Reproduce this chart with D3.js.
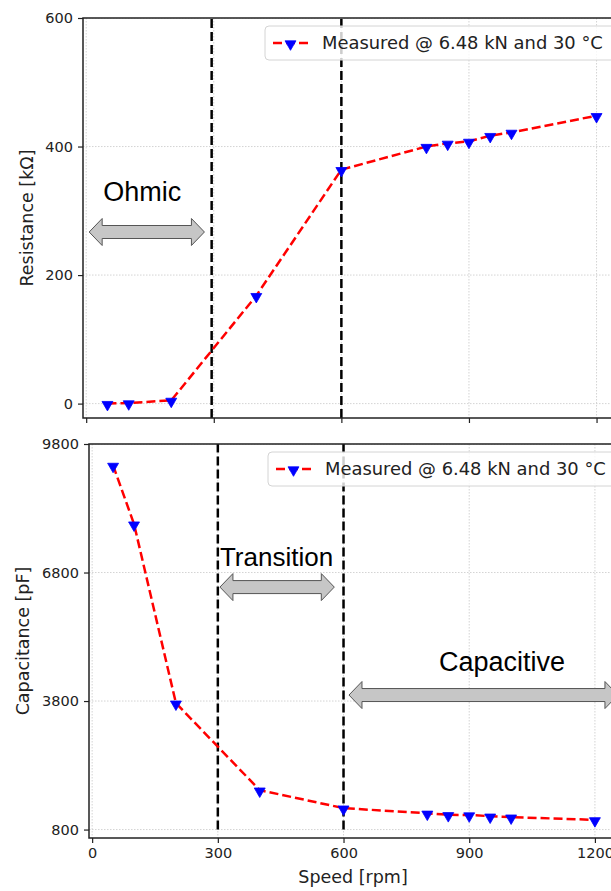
<!DOCTYPE html>
<html>
<head>
<meta charset="utf-8">
<script src="https://cdn.jsdelivr.net/npm/d3@7"></script>
<style>
  body { margin: 0; background: #fff; }
  svg { display: block; }
  .tick text { font-family: "DejaVu Sans", sans-serif; font-size: 14.5px; fill: #222; }
</style>
</head>
<body>
<div id="chart"></div>
<script>
// measured points
var speed = [50, 100, 200, 400, 600, 800, 850, 900, 950, 1000, 1200];
var resistance = [0, 1, 5, 168, 364, 400, 405, 408, 417, 422, 448];
var capacitance = [9300, 7930, 3750, 1720, 1300, 1180, 1145, 1140, 1112, 1090, 1027];

var xTicks = [0, 300, 600, 900, 1200];
var resTicks = [0, 200, 400, 600];
var capTicks = [800, 3800, 6800, 9800];

var legendLabel = "Measured @ 6.48 kN and 30 °C";

// region boundaries (speed) and annotation arrows in data units
var resBounds = [295, 600];
var capBounds = [300, 600];
var ohmic = {x1: 7, x2: 278, y: 267, tx: 40, ty: 315, label: "Ohmic", size: 27};
var transition = {x1: 305, x2: 578, y: 6460, tx: 305, ty: 6945, label: "Transition", size: 26};
var capacitive = {x1: 613, x2: 1255, y: 3940, tx: 828, ty: 4505, label: "Capacitive", size: 27};

var width = 611, height = 891;

var svg = d3.select("#chart").append("svg")
    .attr("width", width)
    .attr("height", height);

var defs = svg.append("defs");

function arrowPath(x1, x2, y) {
  var sh = 6.5, hh = 13.5, hl = 13;
  return "M" + x1 + "," + y +
    "L" + (x1 + hl) + "," + (y - hh) +
    "L" + (x1 + hl) + "," + (y - sh) +
    "L" + (x2 - hl) + "," + (y - sh) +
    "L" + (x2 - hl) + "," + (y - hh) +
    "L" + x2 + "," + y +
    "L" + (x2 - hl) + "," + (y + hh) +
    "L" + (x2 - hl) + "," + (y + sh) +
    "L" + (x1 + hl) + "," + (y + sh) +
    "L" + (x1 + hl) + "," + (y + hh) + "Z";
}

function panel(opt) {
  var x = d3.scaleLinear().domain([-7.5, 1257.5]).range([opt.left, opt.right]);
  var y = d3.scaleLinear().domain(opt.yDomain).range([opt.bottom, opt.top]);

  var clipId = "clip" + opt.id;
  defs.append("clipPath").attr("id", clipId)
    .append("rect")
      .attr("x", opt.left).attr("y", opt.top)
      .attr("width", opt.right - opt.left).attr("height", opt.bottom - opt.top);

  var g = svg.append("g");
  var plot = g.append("g").attr("clip-path", "url(#" + clipId + ")");

  // grid
  plot.selectAll(".vgrid")
    .data(xTicks)
    .enter().append("line")
      .attr("x1", function(d) { return x(d); })
      .attr("x2", function(d) { return x(d); })
      .attr("y1", opt.top).attr("y2", opt.bottom)
      .attr("stroke", "#c8c8c8").attr("stroke-width", 0.8)
      .attr("stroke-dasharray", "1.5,1.5");
  plot.selectAll(".hgrid")
    .data(opt.yTicks)
    .enter().append("line")
      .attr("x1", opt.left).attr("x2", opt.right)
      .attr("y1", function(d) { return y(d); })
      .attr("y2", function(d) { return y(d); })
      .attr("stroke", "#c8c8c8").attr("stroke-width", 0.8)
      .attr("stroke-dasharray", "1.5,1.5");

  // region boundaries
  plot.selectAll(".bound")
    .data(opt.bounds)
    .enter().append("line")
      .attr("x1", function(d) { return x(d); })
      .attr("x2", function(d) { return x(d); })
      .attr("y1", y(opt.vlineSpan[0]))
      .attr("y2", y(opt.vlineSpan[1]))
      .attr("stroke", "#000").attr("stroke-width", 2.5)
      .attr("stroke-dasharray", "9,4");

  // annotations
  opt.notes.forEach(function(n) {
    plot.append("path")
      .attr("d", arrowPath(x(n.x1), x(n.x2), y(n.y)))
      .attr("fill", "#c6c6c6")
      .attr("stroke", "#555")
      .attr("stroke-width", 1);
    plot.append("text")
      .attr("x", x(n.tx)).attr("y", y(n.ty))
      .attr("font-family", "'Liberation Sans', Arial, sans-serif")
      .attr("font-size", n.size)
      .attr("fill", "#000")
      .text(n.label);
  });

  // series
  var line = d3.line()
      .x(function(d) { return x(d[0]); })
      .y(function(d) { return y(d[1]); });
  var pts = d3.zip(speed, opt.values);

  plot.append("path")
    .datum(pts)
    .attr("d", line)
    .attr("fill", "none")
    .attr("stroke", "#ff0000")
    .attr("stroke-width", 2.5)
    .attr("stroke-dasharray", "9,4");

  var tri = d3.symbol().type(d3.symbolTriangle).size(52);
  plot.selectAll(".pt")
    .data(pts)
    .enter().append("path")
      .attr("d", tri)
      .attr("transform", function(d) { return "translate(" + x(d[0]) + "," + (y(d[1]) + 1) + ") rotate(180)"; })
      .attr("fill", "#0000ff")
      .attr("stroke", "#0000ff")
      .attr("stroke-width", 0.8);

  // legend
  var lg = g.append("g").attr("transform", "translate(" + opt.legend[0] + "," + opt.legend[1] + ")");
  lg.append("rect")
    .attr("x", 0).attr("y", 0)
    .attr("width", 380).attr("height", 34)
    .attr("rx", 4)
    .attr("fill", "#fff").attr("fill-opacity", 0.8)
    .attr("stroke", "#d4d4d4").attr("stroke-width", 1);
  lg.append("line")
    .attr("x1", 8).attr("x2", 45).attr("y1", 17).attr("y2", 17)
    .attr("stroke", "#ff0000").attr("stroke-width", 2.5)
    .attr("stroke-dasharray", "9,4");
  lg.append("path")
    .attr("d", tri)
    .attr("transform", "translate(25.5,18) rotate(180)")
    .attr("fill", "#0000ff").attr("stroke", "#0000ff").attr("stroke-width", 0.8);
  lg.append("text")
    .attr("x", 57).attr("y", 17).attr("dy", "0.35em")
    .attr("font-family", "'DejaVu Sans', sans-serif")
    .attr("font-size", 17.9)
    .attr("fill", "#222")
    .text(legendLabel);

  // axes
  g.append("g")
    .attr("transform", "translate(0," + opt.bottom + ")")
    .call(d3.axisBottom(x).tickValues(xTicks).tickSize(5).tickPadding(5)
      .tickFormat(opt.xLabels ? d3.format("d") : ""))
    .call(function(a) { a.select(".domain").remove(); })
    .call(function(a) { a.selectAll(".tick line").attr("stroke", "#222").attr("stroke-width", 1.2); });

  g.append("g")
    .attr("transform", "translate(" + opt.left + ",0)")
    .call(d3.axisLeft(y).tickValues(opt.yTicks).tickSize(5).tickPadding(5).tickFormat(d3.format("d")))
    .call(function(a) { a.select(".domain").remove(); })
    .call(function(a) { a.selectAll(".tick line").attr("stroke", "#222").attr("stroke-width", 1.2); });

  // frame
  g.append("rect")
    .attr("x", opt.left).attr("y", opt.top)
    .attr("width", opt.right - opt.left).attr("height", opt.bottom - opt.top)
    .attr("fill", "none").attr("stroke", "#222").attr("stroke-width", 1.5);

  g.append("text")
    .attr("transform", "translate(" + opt.yLabelX + "," + ((opt.top + opt.bottom) / 2) + ") rotate(-90)")
    .attr("text-anchor", "middle")
    .attr("dy", "0.35em")
    .attr("font-family", "'DejaVu Sans', sans-serif")
    .attr("font-size", 17.5)
    .attr("fill", "#222")
    .text(opt.yLabel);

  return x;
}

panel({
  id: "res", left: 83, right: 621, top: 18, bottom: 418,
  yDomain: [-22.4, 600], yTicks: resTicks, values: resistance,
  bounds: resBounds, vlineSpan: [-22.4, 600], notes: [ohmic],
  legend: [265, 26], xLabels: false,
  yLabel: "Resistance [kΩ]", yLabelX: 27
});

panel({
  id: "cap", left: 89, right: 619, top: 444, bottom: 838,
  yDomain: [603, 9800], yTicks: capTicks, values: capacitance,
  bounds: capBounds, vlineSpan: [800, 9800], notes: [transition, capacitive],
  legend: [268, 452], xLabels: true,
  yLabel: "Capacitance [pF]", yLabelX: 23
});

svg.append("text")
  .attr("x", 353).attr("y", 883)
  .attr("text-anchor", "middle")
  .attr("font-family", "'DejaVu Sans', sans-serif")
  .attr("font-size", 17.5)
  .attr("fill", "#222")
  .text("Speed [rpm]");
</script>
</body>
</html>
